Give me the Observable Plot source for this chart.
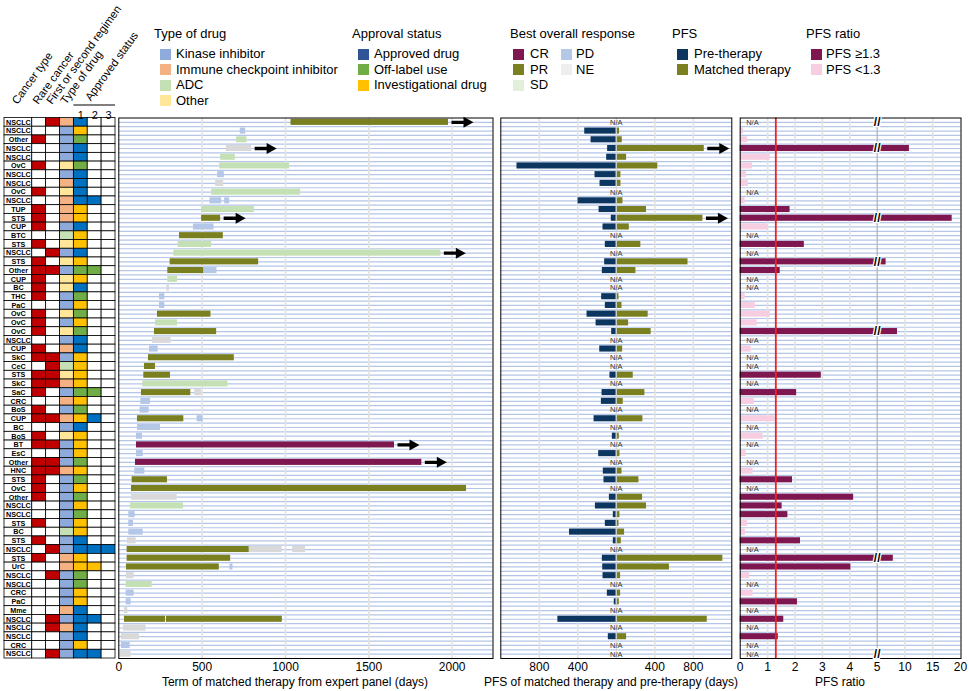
<!DOCTYPE html>
<html><head><meta charset="utf-8">
<script src="https://cdn.jsdelivr.net/npm/d3@7"></script>
<script src="https://cdn.jsdelivr.net/npm/@observablehq/plot@0.6"></script>
<style>
body{margin:0;background:#fff;}
#root{position:relative;width:969px;height:691px;overflow:hidden;font-family:Arial,"Liberation Sans",sans-serif;color:#000;background:#fff;}
#root svg{position:absolute;left:0;top:0;}
.t{position:absolute;white-space:nowrap;font-size:13px;line-height:16px;}
.sw{position:absolute;width:11px;height:11px;}
.ax{position:absolute;font-size:12px;line-height:14px;white-space:nowrap;transform:translateX(-50%);}
</style></head><body><div id="root"></div><script>
// ---------------- DATA ----------------
const cancerType = ["NSCLC","NSCLC","Other","NSCLC","NSCLC","OvC","NSCLC","NSCLC","OvC","NSCLC",
"TUP","STS","CUP","BTC","STS","NSCLC","STS","Other","CUP","BC",
"THC","PaC","OvC","OvC","OvC","NSCLC","CUP","SkC","CeC","STS",
"SkC","SaC","CRC","BoS","CUP","BC","BoS","BT","EsC","Other",
"HNC","STS","OvC","Other","NSCLC","NSCLC","STS","BC","STS","NSCLC",
"STS","UrC","NSCLC","NSCLC","CRC","PaC","Mme","NSCLC","NSCLC","NSCLC",
"CRC","NSCLC"];
const rareCancer = [0,0,1,0,0,1,0,0,1,0, 1,1,1,0,1,0,1,1,1,1, 1,0,1,1,1,0,1,1,0,1, 1,1,0,1,1,0,1,1,0,1, 1,1,1,1,0,0,1,0,1,0, 1,0,0,0,0,0,0,0,0,0, 0,0];
const firstSecond = [1,0,0,0,0,0,0,0,0,0, 0,0,0,0,0,1,0,1,0,0, 0,0,0,0,0,0,0,1,1,1, 1,0,0,0,1,0,0,1,0,1, 1,0,0,0,0,0,0,0,0,1, 0,0,1,0,0,0,0,1,1,0, 0,1];
// K kinase inhibitor, C immune checkpoint inhibitor, D ADC, T other
const drugType = ["C","K","K","K","K","T","K","C","T","C", "C","C","K","D","T","K","T","K","T","T",
"K","K","T","K","T","K","C","K","D","T", "C","K","C","K","C","K","T","K","K","K",
"C","K","K","K","K","K","K","D","K","K", "C","C","K","K","K","K","C","K","C","K", "K","K"];
// A approved, O off-label, V investigational; one letter per regimen (1,2,3)
const approval = ["A","V","O","A","A","O","A","A","A","AA", "V","V","A","V","V","A","V","OO","V","A",
"O","V","O","V","O","A","A","V","V","V", "V","OO","V","O","VA","A","V","V","V","O",
"V","O","V","O","V","O","V","V","A","AAA", "V","VV","O","O","V","V","A","AA","A","A", "V","AA"];

// Term of matched therapy (days): segments
const segRow = [1,2,3,4,5,6,7,8,9,10,10,11,12,13,14,15,16,17,18,18,19,20,21,22,23,24,25,26,27,28,29,30,31,32,32,33,34,35,35,36,37,38,39,40,41,42,43,44,45,46,47,48,49,50,50,50,51,52,52,53,54,55,56,57,58,58,59,60,61,62];
const segStart = [1033,729,707,645,611,605,593,581,557,547,635,497,497,448,364,356,330,308,294,511,294,288,244,244,232,220,214,202,184,178,154,150,144,136,456,132,128,112,470,112,106,106,106,100,96,80,76,76,70,60,60,60,52,50,783,1043,50,46,667,46,44,44,44,34,34,286,28,16,16,4];
const segEnd = [1978,761,769,797,699,1025,633,629,1091,617,665,813,611,571,627,557,1932,839,511,589,352,304,276,276,553,352,587,314,236,693,220,310,655,432,496,190,182,390,506,250,142,1654,146,1818,156,292,2086,350,388,98,88,146,104,783,981,1121,671,603,685,92,200,92,74,54,280,981,164,124,68,74];
const segResp = ["PR","PD","SD","NE","SD","SD","PD","NE","SD","PD","PD","SD","PR","PD","PR","SD","SD","PR","PR","PD","SD","NE","PD","PD","PR","SD","PR","NE","PD","PR","PR","PR","SD","PR","NE","PD","PD","PR","PD","PD","PD","CR","PD","CR","PD","PR","PR","NE","SD","PD","PD","PD","NE","PR","NE","NE","PR","PR","PD","NE","SD","PD","PD","NE","PR","PR","NE","NE","PD","NE"];
const ongoingTerm = [1,4,12,16,38,40];

// PFS (days); null = N/A
const pfsPre = [null,328,262,90,100,1032,221,169,null,397,179,52,138,null,114,null,121,145,null,null,152,114,304,210,48,null,172,null,null,66,null,148,155,null,231,null,41,null,183,null,135,128,null,72,217,31,114,486,31,null,145,141,138,null,93,21,null,607,null,83,null,null];
const pfsMatched = [null,34,62,914,107,431,48,48,null,69,314,900,135,null,255,null,745,204,null,null,28,59,331,128,362,null,66,null,null,176,null,297,72,null,276,null,31,null,38,null,59,235,null,273,314,38,28,86,52,null,1107,552,45,null,45,31,null,945,null,107,null,null];
const ongoingPfs = [4,12];
const pfsRatio = [null,0.12,0.27,10.8,1.1,0.45,0.23,0.3,null,0.18,1.82,18.5,1.02,null,2.34,null,6.6,1.46,null,null,0.18,0.55,1.1,0.62,8.65,null,0.4,null,null,2.96,null,2.06,0.51,null,1.27,null,0.84,null,0.22,null,0.47,1.91,null,4.14,1.53,1.74,0.27,0.19,2.2,null,7.9,4.04,0.34,null,0.47,2.09,null,1.59,null,1.39,null,null];

const termTicks = [0,500,1000,1500,2000];
const pfsTicks = [-800,-400,400,800];
const ratioTicks = [0,1,2,3,4,5,10,15,20];
const ratioThreshold = 1.3;

// colours
const RED = "#c00000";
const drugColor = {K:"#8eaadb", C:"#f4b183", D:"#c5e0b4", T:"#ffe699"};
const apprCell = {A:"#0070c0", O:"#70ad47", V:"#ffc000"};
const respColor = {CR:"#7e1650", PR:"#7a7f1f", SD:"#c5e0b4", PD:"#b4c7e7", NE:"#d9d9d9"};
const PRE = "#0c3560", MATCH = "#7a7f1f", HI = "#7e1650", LO = "#f7cde1";

const legendDrug = [["Kinase inhibitor","#8faadc"],["Immune checkpoint inhibitor","#f4b183"],["ADC","#c5e0b4"],["Other","#ffe699"]];
const legendAppr = [["Approved drug","#2f5597"],["Off-label use","#70ad47"],["Investigational drug","#ffc000"]];
const legendBor1 = [["CR","#7e1650"],["PR","#7a7f1f"],["SD","#e2efda"]];
const legendBor2 = [["PD","#b4c7e7"],["NE","#eeeeee"]];
const legendPfs = [["Pre-therapy",PRE],["Matched therapy",MATCH]];
const legendRatio = [["PFS \u22651.3",HI],["PFS <1.3",LO]];
const headers = ["Cancer type","Rare cancer","First or second regimen","Type of drug"];

// ---------------- LAYOUT ----------------
const W = 969, H = 691, TOP = 117.5, BOT = 33;
const N = cancerType.length;
const root = document.getElementById("root");
const FONT = "Arial, 'Liberation Sans', sans-serif";
const baseStyle = {fontFamily: FONT, fontSize: "12px", background: "transparent", overflow: "visible", color: "#000"};
const halfRows = d3.range(1, 2*N).map(k => k/2);
const rowGrid = Plot.ruleY(halfRows, {stroke: "#b4c6e7", strokeWidth: 1.2});
const arrowSymbol = {draw(ctx){ctx.moveTo(-11,-1.7);ctx.lineTo(1,-1.7);ctx.lineTo(1,-5.5);ctx.lineTo(11,0);ctx.lineTo(1,5.5);ctx.lineTo(1,1.7);ctx.lineTo(-11,1.7);ctx.closePath();}};
const rows = d3.range(N);

// ---- table ----
const cells = [];
rows.forEach(i => {
  cells.push({row:i, x1:0, x2:2, fill:"#fff"});
  cells.push({row:i, x1:2, x2:3, fill: rareCancer[i] ? RED : "#fff"});
  cells.push({row:i, x1:3, x2:4, fill: firstSecond[i] ? RED : "#fff"});
  cells.push({row:i, x1:4, x2:5, fill: drugColor[drugType[i]]});
  for (let j = 0; j < 3; j++) cells.push({row:i, x1:5+j, x2:6+j, fill: approval[i][j] ? apprCell[approval[i][j]] : "#fff"});
});
const tbl = Plot.plot({
  width: W, height: H, marginTop: TOP, marginBottom: BOT, marginLeft: 4, marginRight: W-115,
  style: baseStyle,
  x: {domain: [0, 8], range: [4, 115], axis: null},
  y: {domain: [0, N], reverse: true, axis: null},
  color: {type: "identity"},
  marks: [
    Plot.rect(cells, {x1:"x1", x2:"x2", y1: d => d.row, y2: d => d.row + 1, fill: "fill", stroke: "#000", strokeWidth: 0.8}),
    Plot.text(cancerType, {x: 1, y: (d, i) => i + 0.5, text: d => d, fontSize: 7.2, fontWeight: "bold", fill: "#000"}),
    Plot.text(headers, {x: (d, i) => [1, 2.5, 3.5, 4.5][i], frameAnchor: "top", dy: -13, dx: -1, rotate: -54, textAnchor: "start", lineAnchor: "bottom", text: d => d, fontSize: 11.3}),
    Plot.text(["Approved status"], {x: 6.5, frameAnchor: "top", dy: -16.5, dx: -4, rotate: -54, textAnchor: "start", lineAnchor: "bottom", text: d => d, fontSize: 11.3}),
    Plot.ruleY([0], {x1: 5, x2: 8, dy: -13, stroke: "#000", strokeWidth: 1}),
    Plot.text(["1","2","3"], {x: (d, i) => 5.5 + i, frameAnchor: "top", dy: -7, text: d => d, fontSize: 11})
  ]
});
root.appendChild(tbl);

// ---- panel 1: term ----
const segs = segRow.map((r, i) => ({row: r-1, start: segStart[i], end: segEnd[i], resp: segResp[i]}));
const arrows1 = ongoingTerm.map(r => ({row: r-1, end: d3.max(segs.filter(s => s.row === r-1), s => s.end)}));
const p1 = Plot.plot({
  width: W, height: H, marginTop: TOP, marginBottom: BOT, marginLeft: 118.3, marginRight: W-492.5,
  style: baseStyle,
  x: {domain: [0, 2245]},
  y: {domain: [0, N], reverse: true, axis: null},
  color: {type: "identity"},
  marks: [
    rowGrid,
    Plot.ruleX(termTicks.slice(1), {stroke: "#e2e2e2", strokeWidth: 1.6}),
    Plot.rect(segs, {x1: "start", x2: "end", y1: d => d.row + 0.15, y2: d => d.row + 0.85, fill: d => respColor[d.resp]}),
    Plot.dot(arrows1, {x: "end", y: d => d.row + 0.5, symbol: arrowSymbol, r: 5, fill: "#000", stroke: "none", dx: 14}),
    Plot.frame({stroke: "#000", strokeWidth: 1}),
    Plot.axisX({ticks: termTicks, tickFormat: d => String(d), tickSize: 0, tickPadding: 4, label: null, fontSize: 12, fill: "#000"})
  ]
});
root.appendChild(p1);

// ---- panel 2: PFS ----
const pfs = rows.map(i => ({row: i, pre: pfsPre[i], matched: pfsMatched[i]}));
const pfsOk = pfs.filter(d => d.pre != null);
const pfsNA = pfs.filter(d => d.pre == null);
const arrows2 = ongoingPfs.map(r => pfs[r-1]);
const p2 = Plot.plot({
  width: W, height: H, marginTop: TOP, marginBottom: BOT, marginLeft: 500.3, marginRight: W-731.3,
  style: baseStyle,
  x: {domain: [-1200, 1200]},
  y: {domain: [0, N], reverse: true, axis: null},
  color: {type: "identity"},
  marks: [
    rowGrid,
    Plot.ruleX(pfsTicks, {stroke: "#e2e2e2", strokeWidth: 1.6}),
    Plot.rect(pfsOk, {x1: d => -d.pre, x2: 0, y1: d => d.row + 0.15, y2: d => d.row + 0.85, fill: PRE}),
    Plot.rect(pfsOk, {x1: 0, x2: "matched", y1: d => d.row + 0.15, y2: d => d.row + 0.85, fill: MATCH}),
    Plot.ruleX([0], {stroke: "#d4d4d4", strokeWidth: 1.2}),
    Plot.text(pfsNA, {x: 0, y: d => d.row + 0.5, text: () => "N/A", fontSize: 7.5, fill: "#333"}),
    Plot.dot(arrows2, {x: "matched", y: d => d.row + 0.5, symbol: arrowSymbol, r: 5, fill: "#000", stroke: "none", dx: 14}),
    Plot.frame({stroke: "#000", strokeWidth: 1}),
    Plot.axisX({ticks: pfsTicks, tickFormat: d => String(Math.abs(d)), tickSize: 0, tickPadding: 4, label: null, fontSize: 12, fill: "#000"})
  ]
});
root.appendChild(p2);

// ---- panel 3: PFS ratio ----
const ratio = rows.map(i => ({row: i, v: pfsRatio[i]}));
const ratioOk = ratio.filter(d => d.v != null);
const ratioNA = ratio.filter(d => d.v == null);
const p3 = Plot.plot({
  width: W, height: H, marginTop: TOP, marginBottom: BOT, marginLeft: 739.7, marginRight: W-960.5,
  style: baseStyle,
  x: {type: "linear", domain: [0, 5, 20], range: [739.7, 876.7, 960]},
  y: {domain: [0, N], reverse: true, axis: null},
  color: {type: "identity"},
  marks: [
    rowGrid,
    Plot.ruleX(ratioTicks.filter(t => t > 0 && t < 20 && t !== 5), {stroke: "#e2e2e2", strokeWidth: 1.6}),
    Plot.ruleX([5], {stroke: "#b0b0b0", strokeWidth: 1.2}),
    Plot.rect(ratioOk, {x1: 0, x2: "v", y1: d => d.row + 0.15, y2: d => d.row + 0.85, fill: d => d.v >= ratioThreshold ? HI : LO}),
    Plot.ruleX([ratioThreshold], {stroke: "#f02020", strokeWidth: 1.8}),
    Plot.text(ratioNA, {x: 0, dx: 6, y: d => d.row + 0.5, text: () => "N/A", textAnchor: "start", fontSize: 7.5, fill: "#333"}),
    Plot.text(ratioOk.filter(d => d.v > 5), {x: 5, y: d => d.row + 0.5, text: () => "//", fontSize: 12, fontWeight: "bold", fill: "#000", stroke: "#fff", strokeWidth: 2.5}),
    Plot.frame({stroke: "#000", strokeWidth: 1}),
    Plot.axisX({ticks: ratioTicks, tickSize: 0, tickPadding: 4, label: null, fontSize: 12, fill: "#000"}),
    Plot.text([5], {x: d => d, frameAnchor: "top", dy: -1, text: () => "//", fontSize: 12, fontWeight: "bold", fill: "#000", stroke: "#fff", strokeWidth: 2.5}),
    Plot.text([5], {x: d => d, frameAnchor: "bottom", dy: -1, text: () => "//", fontSize: 12, fontWeight: "bold", fill: "#000", stroke: "#fff", strokeWidth: 2.5})
  ]
});
root.appendChild(p3);

// ---------------- LEGENDS & TITLES ----------------
function addText(txt, x, y, cls) {
  const d = document.createElement("div");
  d.className = cls || "t"; d.textContent = txt;
  d.style.left = x + "px"; d.style.top = y + "px";
  root.appendChild(d); return d;
}
function legend(title, items, tx, sx, lx, y0, showTitle = true) {
  if (showTitle) addText(title, tx, 26);
  items.forEach(([label, col], i) => {
    const cy = y0 + i * 15.4;
    const s = document.createElement("div");
    s.className = "sw"; s.style.left = sx + "px"; s.style.top = (cy - 5.5) + "px"; s.style.background = col;
    root.appendChild(s);
    addText(label, lx, cy - 8);
  });
}
legend("Type of drug", legendDrug, 154, 160, 176, 54.3);
legend("Approval status", legendAppr, 352, 358, 374, 54.3);
legend("Best overall response", legendBor1, 510, 513, 530, 54.3);
legend("", legendBor2, 0, 561, 576, 54.3, false);
legend("PFS", legendPfs, 672, 677, 694, 54.3);
legend("PFS ratio", legendRatio, 806, 811, 826, 54.3);

addText("Term of matched therapy from expert panel (days)", 295, 675, "ax");
addText("PFS of matched therapy and pre-therapy (days)", 611, 675, "ax");
addText("PFS ratio", 840, 675, "ax");
</script></body></html>
